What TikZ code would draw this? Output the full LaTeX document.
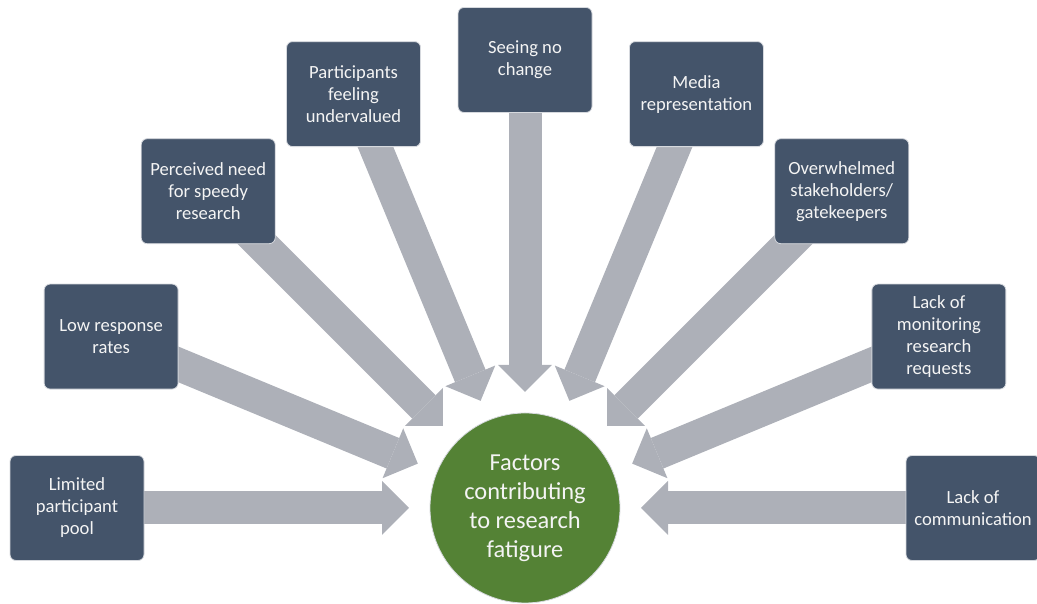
\documentclass[tikz,border=0pt]{standalone}
\usepackage{fontspec}
\setmainfont{Carlito}
\usetikzlibrary{arrows.meta,backgrounds,calc}
\definecolor{boxfill}{HTML}{44546A}
\definecolor{boxline}{HTML}{D6D9DE}
\definecolor{arrowgray}{HTML}{ADB0B8}
\definecolor{hubgreen}{HTML}{548235}
\definecolor{textwhite}{HTML}{F4F4F4}
\tikzset{
  factor/.style={draw=boxline, line width=0.8pt, fill=boxfill, rounded corners=6pt,
    minimum width=134pt, minimum height=105pt, inner sep=2pt,
    text=textwhite, align=center, font=\fontsize{18.6}{22}\selectfont},
  hub/.style={circle, draw=boxline, line width=0.8pt, fill=hubgreen, minimum size=190pt,
    inner sep=0pt, text=textwhite, align=center, font=\fontsize{24.4}{29}\selectfont},
  blockarrow/.style={draw=arrowgray, line width=33pt,
    -{Triangle[width=54pt,length=27pt,line width=0pt]}, color=arrowgray}
}
\begin{document}
\begin{tikzpicture}[x=1pt,y=1pt]
\useasboundingbox (0,0) rectangle (1037,604);
\coordinate (C) at (525,96);
\node[hub] (hub) at (C) {Factors\\contributing\\to research\\fatigure};
\node[factor] (f1) at ($(C)+(180:448)$) {Limited\\participant\\pool};
\node[factor] (f2) at ($(C)+(157.5:448)$) {Low response\\rates};
\node[factor] (f3) at ($(C)+(135:448)$) {Perceived need\\for speedy\\research};
\node[factor] (f4) at ($(C)+(112.5:448)$) {Participants\\feeling\\undervalued};
\node[factor] (f5) at ($(C)+(90:448)$) {Seeing no\\change};
\node[factor] (f6) at ($(C)+(67.5:448)$) {Media\\representation};
\node[factor] (f7) at ($(C)+(45:448)$) {Overwhelmed\\stakeholders/\\gatekeepers};
\node[factor] (f8) at ($(C)+(22.5:448)$) {Lack of\\monitoring\\research\\requests};
\node[factor] (f9) at ($(C)+(0:448)$) {Lack of\\communication};
\foreach \i/\a in {1/180,2/157.5,3/135,4/112.5,5/90,6/67.5,7/45,8/22.5,9/0}{
  \coordinate (t\i) at ($(C)+(\a:116)$);
}
\begin{pgfonlayer}{background}
\foreach \i in {1,...,9}{
  \draw[blockarrow] (f\i.center) -- (t\i);
}
\end{pgfonlayer}
\end{tikzpicture}
\end{document}
